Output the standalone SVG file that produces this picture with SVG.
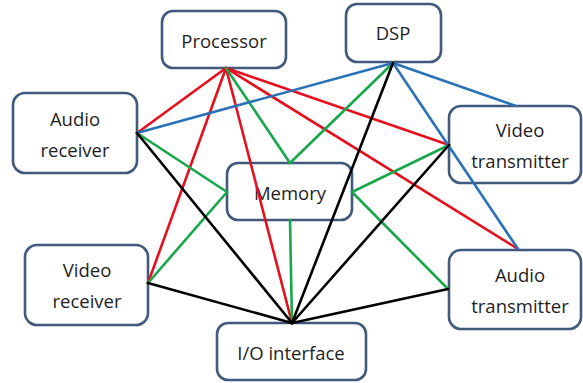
<svg xmlns="http://www.w3.org/2000/svg" width="583" height="383" viewBox="0 0 583 383">
<style>
.box{fill:#fff;stroke:#41597c;stroke-width:2.6}
.t{font-family:"Open Sans","Noto Sans",sans-serif;font-size:18.5px;fill:#1e1e1e;text-anchor:middle}
.c line{stroke-width:2.6;stroke-linecap:round}
.r{stroke:#e5101e}
.g{stroke:#16a84a}
.b{stroke:#2a72b8}
.k{stroke:#000}
</style>
<rect width="583" height="383" fill="#fff"/>
<g id="processor"><rect class="box" x="162" y="11" width="124" height="57" rx="11"/><text class="t" x="224" y="48">Processor</text></g>
<g id="dsp"><rect class="box" x="346" y="4" width="95" height="58" rx="11"/><text class="t" x="393" y="40">DSP</text></g>
<g id="audio-receiver"><rect class="box" x="13" y="93" width="124" height="80" rx="12"/><text class="t" x="75" y="126">Audio</text><text class="t" x="75" y="157">receiver</text></g>
<g id="video-transmitter"><rect class="box" x="449" y="106" width="132" height="77" rx="12"/><text class="t" x="520" y="137">Video</text><text class="t" x="520" y="168">transmitter</text></g>
<g id="memory"><rect class="box" x="227" y="163" width="125" height="57" rx="11"/><text class="t" x="290" y="200">Memory</text></g>
<g id="video-receiver"><rect class="box" x="25" y="245" width="123" height="80" rx="12"/><text class="t" x="87" y="277">Video</text><text class="t" x="87" y="308">receiver</text></g>
<g id="audio-transmitter"><rect class="box" x="449" y="250" width="132" height="79" rx="12"/><text class="t" x="520" y="282">Audio</text><text class="t" x="520" y="313">transmitter</text></g>
<g id="io-interface"><rect class="box" x="217" y="323" width="149" height="57" rx="11"/><text class="t" x="291" y="360">I/O interface</text></g>
<g id="connectors" class="c">
<line class="r" x1="226" y1="68" x2="137" y2="133"/>
<line class="r" x1="226" y1="68" x2="148" y2="283"/>
<line class="r" x1="226" y1="68" x2="292" y2="323"/>
<line class="r" x1="226" y1="68" x2="449" y2="145"/>
<line class="r" x1="226" y1="68" x2="518" y2="249"/>
<line class="g" x1="226" y1="68" x2="290" y2="163"/>
<line class="g" x1="393" y1="63" x2="290" y2="163"/>
<line class="g" x1="137" y1="133" x2="227" y2="192"/>
<line class="g" x1="148" y1="283" x2="227" y2="192"/>
<line class="g" x1="449" y1="145" x2="352" y2="192"/>
<line class="g" x1="448" y1="289" x2="352" y2="192"/>
<line class="g" x1="290" y1="220" x2="292" y2="323"/>
<line class="b" x1="393" y1="63" x2="137" y2="133"/>
<line class="b" x1="393" y1="63" x2="516" y2="106"/>
<line class="b" x1="393" y1="63" x2="518" y2="249"/>
<line class="k" x1="137" y1="133" x2="292" y2="323"/>
<line class="k" x1="148" y1="283" x2="292" y2="323"/>
<line class="k" x1="393" y1="63" x2="292" y2="323"/>
<line class="k" x1="449" y1="145" x2="292" y2="323"/>
<line class="k" x1="448" y1="289" x2="292" y2="323"/>
</g>
</svg>
